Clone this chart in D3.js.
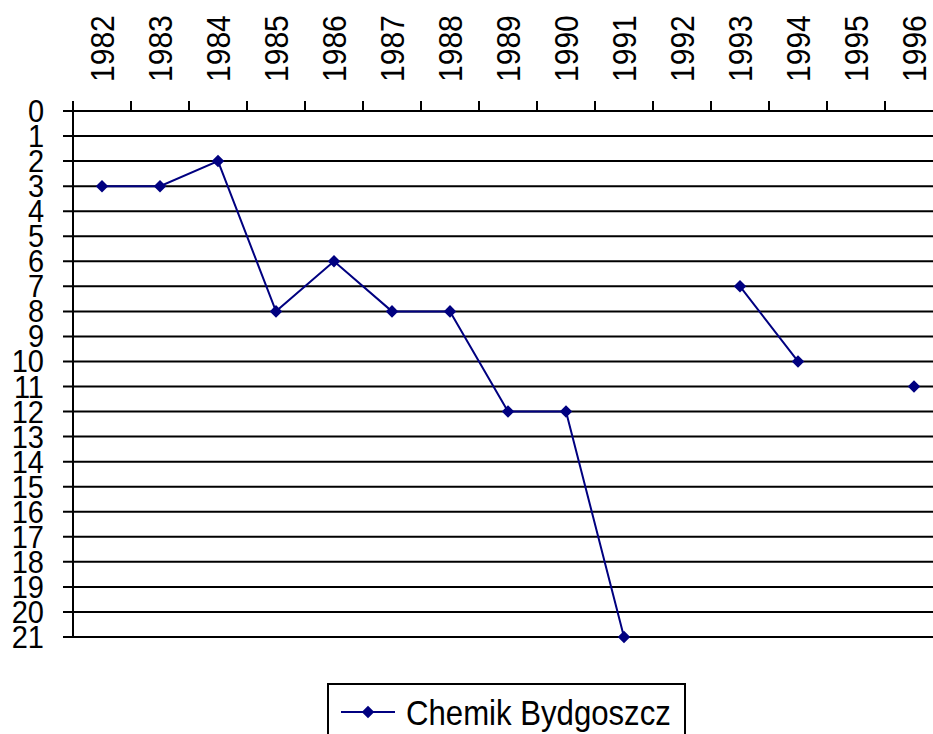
<!doctype html>
<html lang='en'>
<head>
    <meta charset='UTF-8'>
    <title>Chemik Bydgoszcz</title>
    <style>
        html, body { margin: 0; background: #fff; overflow: hidden; }
        svg { display: block; font-family: "Liberation Sans", Arial, sans-serif; }
    </style>
</head>
<body>
    <script src='https://d3js.org/d3.v7.min.js'></script>
    <div class='chart'></div>
    <script>
        // Data (null = no entry that season)
        const years = ['1982', '1983', '1984', '1985', '1986', '1987', '1988', '1989',
            '1990', '1991', '1992', '1993', '1994', '1995', '1996'];
        const positions = [3, 3, 2, 8, 6, 8, 8, 12, 12, 21, null, 7, 10, null, 11];
        const yTicks = d3.range(0, 22);
        const seriesName = 'Chemik Bydgoszcz';

        const width = 933, height = 734;
        const plot = {left: 73, top: 111, bottom: 637, band: 58};
        const lineColor = '#000080';

        const svg = d3.select('.chart').append('svg')
            .attr('width', width)
            .attr('height', height);

        const x = d3.scaleBand()
            .domain(years)
            .range([plot.left, plot.left + plot.band * years.length]);

        const y = d3.scaleLinear()
            .domain([0, 21])
            .range([plot.top, plot.bottom]);

        // horizontal gridlines
        svg.append('g')
            .selectAll('line')
            .data(yTicks)
            .join('line')
            .attr('x1', plot.left - 10)
            .attr('x2', x.range()[1])
            .attr('y1', (d) => y(d))
            .attr('y2', (d) => y(d))
            .attr('stroke', '#000')
            .attr('stroke-width', 2);

        // y axis labels
        svg.append('g')
            .selectAll('text')
            .data(yTicks)
            .join('text')
            .attr('transform', (d) => 'translate(44,' + y(d) + ') scale(1,1.05)')
            .attr('dy', '0.36em')
            .attr('text-anchor', 'end')
            .attr('font-size', 29)
            .attr('fill', '#000')
            .text((d) => d);

        // vertical axis
        svg.append('line')
            .attr('x1', plot.left).attr('x2', plot.left)
            .attr('y1', plot.top - 10).attr('y2', plot.bottom)
            .attr('stroke', '#000')
            .attr('stroke-width', 2);

        // top category ticks
        svg.append('g')
            .selectAll('line')
            .data(years.slice(1))
            .join('line')
            .attr('x1', (d) => x(d))
            .attr('x2', (d) => x(d))
            .attr('y1', plot.top - 10)
            .attr('y2', plot.top)
            .attr('stroke', '#000')
            .attr('stroke-width', 2);

        // year labels, rotated
        svg.append('g')
            .selectAll('text')
            .data(years)
            .join('text')
            .attr('transform', (d) => 'translate(' + (x(d) + x.bandwidth() / 2) + ',82) rotate(-90) scale(0.91,1)')
            .attr('dy', '0.36em')
            .attr('font-size', 33)
            .attr('fill', '#000')
            .text((d) => d);

        const points = years.map((d, i) => ({year: d, value: positions[i]}));

        const line = d3.line()
            .defined((d) => d.value !== null)
            .x((d) => x(d.year) + x.bandwidth() / 2)
            .y((d) => y(d.value));

        svg.append('path')
            .datum(points)
            .attr('d', line)
            .attr('fill', 'none')
            .attr('stroke', lineColor)
            .attr('stroke-width', 2);

        const diamond = d3.symbol().type(d3.symbolDiamond2).size(100);

        svg.append('g')
            .selectAll('path')
            .data(points.filter((d) => d.value !== null))
            .join('path')
            .attr('d', diamond)
            .attr('transform', (d) => 'translate(' + (x(d.year) + x.bandwidth() / 2) + ',' + y(d.value) + ')')
            .attr('fill', lineColor);

        // legend
        const legend = svg.append('g');
        legend.append('rect')
            .attr('x', 328).attr('y', 684)
            .attr('width', 357).attr('height', 70)
            .attr('fill', '#fff')
            .attr('stroke', '#000')
            .attr('stroke-width', 2);
        legend.append('line')
            .attr('x1', 341).attr('x2', 395)
            .attr('y1', 712).attr('y2', 712)
            .attr('stroke', lineColor)
            .attr('stroke-width', 2);
        legend.append('path')
            .attr('d', diamond)
            .attr('transform', 'translate(368,712)')
            .attr('fill', lineColor);
        legend.append('text')
            .attr('transform', 'translate(406,725) scale(0.89,1)')
            .attr('font-size', 35)
            .attr('fill', '#000')
            .text(seriesName);
    </script>
</body>
</html>
